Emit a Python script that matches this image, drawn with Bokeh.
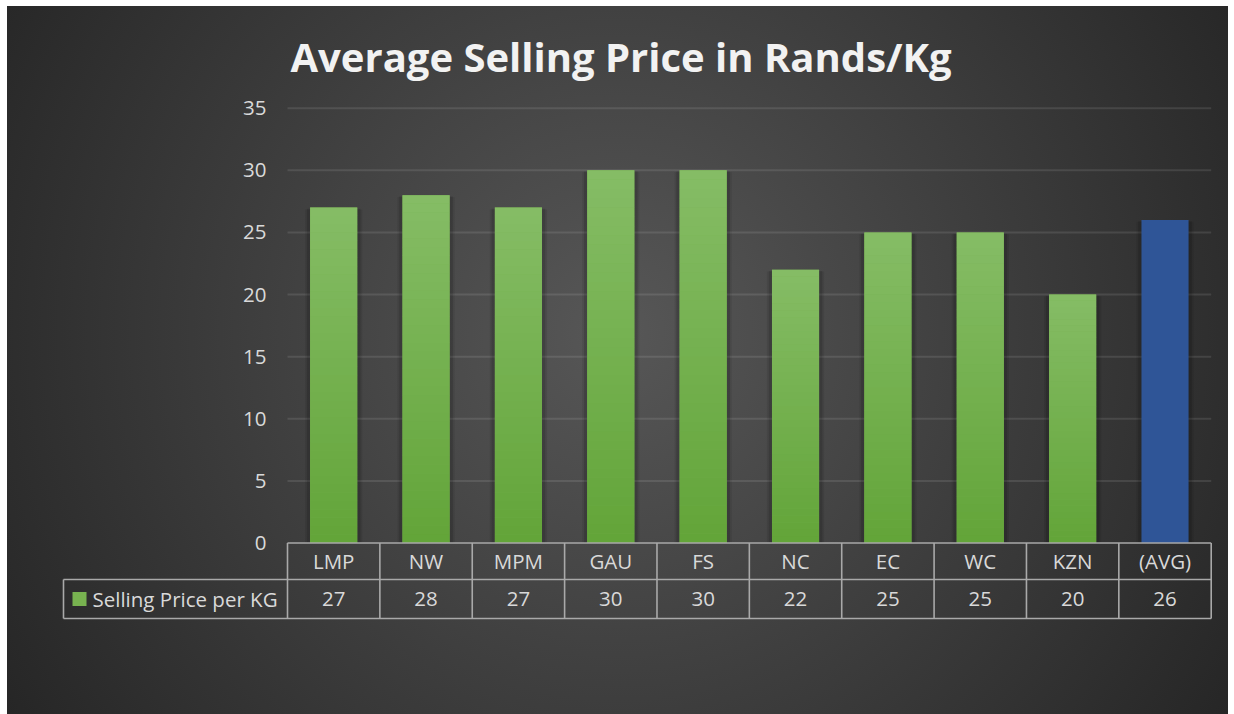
import numpy as np
from bokeh.plotting import figure
from bokeh.models import Range1d, Title
from bokeh.core.properties import value
from bokeh.embed import file_html
from bokeh.resources import INLINE

# ---------------- data ----------------
categories = ["LMP", "NW", "MPM", "GAU", "FS", "NC", "EC", "WC", "KZN", "(AVG)"]
prices = [27, 28, 27, 30, 30, 22, 25, 25, 20, 26]
series_name = "Selling Price per KG"
y_ticks = [0, 5, 10, 15, 20, 25, 30, 35]
title_text = "Average Selling Price in Rands/Kg"

# ---------------- layout constants (pixels) ----------------
W, H = 1221, 708
FL, FR, FT, FB = 54, 1206, 94, 614          # frame edges in figure px
CW = 92.37                                   # px per category
PU = 12.423                                  # px per value unit
X0_PX, Y0_PX = 280, 536.5                    # px of category 0 left edge / value 0
x_start, x_end = -(X0_PX - FL) / CW, (FR - X0_PX) / CW
y_start, y_end = -(FB - Y0_PX) / PU, (Y0_PX - FT) / PU

row1 = -(573 - Y0_PX) / PU                   # bottom of category row
row2 = -(612 - Y0_PX) / PU                   # bottom of value row
head_left = -(X0_PX - 56) / CW               # left edge of header cell

FONT = value("Open Sans")
FS = value("20.5px")
TXT = "#d9d9d9"
LINE = "#a9a9a9"

p = figure(width=W, height=H, output_backend="svg", toolbar_location=None,
           x_range=Range1d(x_start, x_end), y_range=Range1d(y_start, y_end),
           x_axis_type=None, y_axis_type=None,
           min_border_left=FL, min_border_right=W - FR,
           min_border_top=FT, min_border_bottom=H - FB)
p.background_fill_color = None
p.border_fill_color = None
p.outline_line_color = None
p.styles = {"background": "radial-gradient(circle 720px at 50% 46%, #575757 0%, #262626 100%)",
            "margin-left": "7px", "margin-top": "6px"}

p.title = Title(text=title_text, text_font="Open Sans", text_font_size="40px",
                text_font_style="bold", text_color="#f2f2f2", align="left",
                offset=229, standoff=33)

n = len(categories)
xs = np.arange(n) + 0.5
vals = np.array(prices, dtype=float)
is_avg = np.array([c == "(AVG)" for c in categories])

# gridlines
gy = np.array(y_ticks[1:], dtype=float)
p.segment(x0=np.zeros(len(gy)), x1=np.full(len(gy), n), y0=gy, y1=gy,
          line_color="white", line_alpha=0.1, line_width=2)

# bar shadows
p.vbar(x=xs, top=vals - 0.15, bottom=0, width=0.62, fill_color="black",
       fill_alpha=0.08, line_color=None)
p.vbar(x=xs, top=vals - 0.1, bottom=0, width=0.58, fill_color="black",
       fill_alpha=0.12, line_color=None)

# base bars
base_colors = ["#2f5597" if a else "#76b04f" for a in is_avg]
p.vbar(x=xs, top=vals, bottom=0, width=0.51, fill_color=base_colors, line_color=None)

# vertical gradient on the green bars
top_rgb = np.array([134, 189, 102])
bot_rgb = np.array([99, 165, 57])
N = 40
gx, gt, gb, gc = [], [], [], []
for x, v, a in zip(xs, vals, is_avg):
    if a:
        continue
    for k in range(N):
        f = (k + 0.5) / N
        r, g, b = (bot_rgb + (top_rgb - bot_rgb) * f).astype(int)
        gx.append(x)
        gb.append(v * k / N)
        gt.append(min(v, v * (k + 1) / N + 0.02))
        gc.append("#%02x%02x%02x" % (r, g, b))
p.vbar(x=gx, top=gt, bottom=gb, width=0.51, fill_color=gc, line_color=None)

# y tick labels
p.text(x=np.full(len(y_ticks), -(X0_PX - 259) / CW), y=y_ticks,
       text=[str(t) for t in y_ticks], text_font=FONT, text_font_size=FS,
       text_color=TXT, text_align="right", text_baseline="middle")

# data table lines
hx0 = [0, head_left, head_left]
hx1 = [n, n, n]
hy = [0, row1, row2]
p.segment(x0=hx0, x1=hx1, y0=hy, y1=hy, line_color=LINE, line_width=1.6)
vx = list(np.arange(n + 1, dtype=float))
p.segment(x0=vx, x1=vx, y0=[0] * (n + 1), y1=[row2] * (n + 1),
          line_color=LINE, line_width=1.6)
p.segment(x0=[head_left], x1=[head_left], y0=[row1], y1=[row2],
          line_color=LINE, line_width=1.6)

# table texts
p.text(x=xs, y=np.full(n, row1 / 2), text=categories, text_font=FONT,
       text_font_size=FS, text_color=TXT, text_align="center",
       text_baseline="middle")
p.text(x=xs, y=np.full(n, (row1 + row2) / 2), text=[str(v) for v in prices],
       text_font=FONT, text_font_size=FS, text_color=TXT,
       text_align="center", text_baseline="middle")

# legend key + series name
p.rect(x=[-(X0_PX - 72) / CW], y=[(row1 + row2) / 2], width=14, height=14,
       width_units="screen", height_units="screen", fill_color="#78b350",
       line_color=None)
p.text(x=[-(X0_PX - 85) / CW], y=[(row1 + row2) / 2], text=[series_name],
       text_font=FONT, text_font_size=FS, text_color=TXT,
       text_align="left", text_baseline="middle")

open("out.html", "w").write(file_html(p, INLINE))
